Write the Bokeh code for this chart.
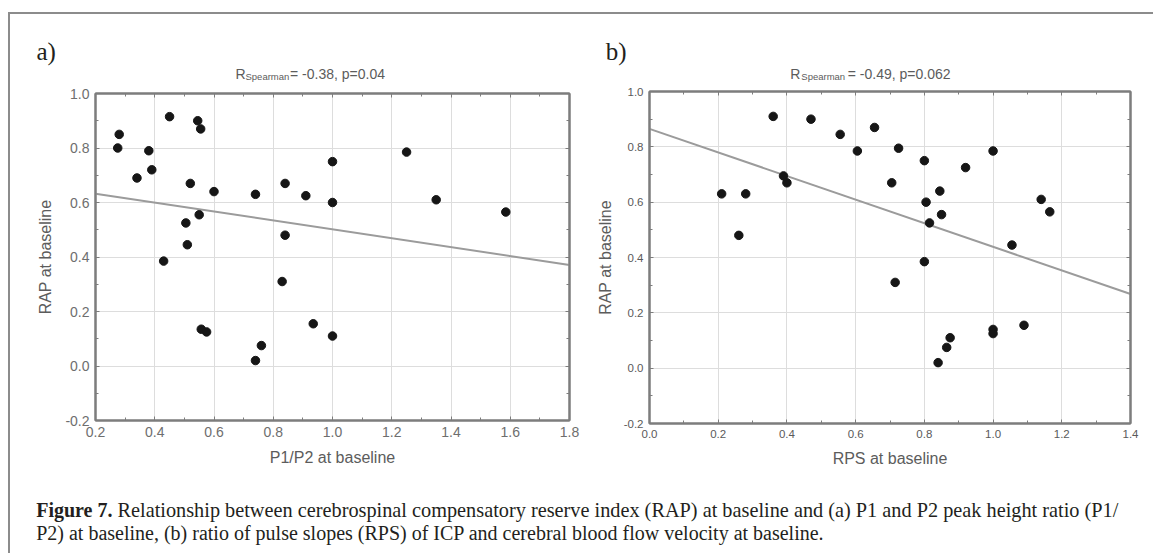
from bokeh.plotting import figure
from bokeh.models import (Range1d, FixedTicker, PrintfTickFormatter, LinearAxis,
                          Label, CustomJSTickFormatter)
from bokeh.layouts import row, column
from bokeh.embed import file_html
from bokeh.resources import INLINE

# ---------------- data ----------------
a_x = [0.275, 0.28, 0.34, 0.38, 0.39, 0.45, 0.545, 0.555, 0.52, 0.60,
       0.55, 0.505, 0.51, 0.43, 0.74, 0.84, 0.91, 1.0, 1.0, 0.84,
       1.25, 1.35, 1.585, 0.83, 0.557, 0.575, 0.76, 0.74, 0.935, 1.0]
a_y = [0.80, 0.85, 0.69, 0.79, 0.72, 0.915, 0.90, 0.87, 0.67, 0.64,
       0.555, 0.525, 0.445, 0.385, 0.63, 0.67, 0.625, 0.75, 0.60, 0.48,
       0.785, 0.61, 0.565, 0.31, 0.135, 0.125, 0.075, 0.02, 0.155, 0.11]
a_line_x = [0.2, 1.8]
a_line_y = [0.632, 0.371]

b_x = [0.21, 0.28, 0.26, 0.36, 0.39, 0.40, 0.47, 0.555, 0.605, 0.655,
       0.725, 0.705, 0.80, 0.805, 0.815, 0.845, 0.85, 0.92, 1.0, 1.055,
       1.14, 1.165, 0.80, 0.715, 1.0, 1.0, 0.875, 0.865, 0.84, 1.09]
b_y = [0.63, 0.63, 0.48, 0.91, 0.695, 0.67, 0.90, 0.845, 0.785, 0.87,
       0.795, 0.67, 0.75, 0.60, 0.525, 0.64, 0.555, 0.725, 0.785, 0.445,
       0.61, 0.565, 0.385, 0.31, 0.14, 0.125, 0.11, 0.075, 0.02, 0.155]
b_line_x = [0.0, 1.4]
b_line_y = [0.865, 0.268]

a_xticks = [0.2, 0.4, 0.6, 0.8, 1.0, 1.2, 1.4, 1.6, 1.8]
a_xminor = [0.3, 0.5, 0.7, 0.9, 1.1, 1.3, 1.5, 1.7]
b_xticks = [0.0, 0.2, 0.4, 0.6, 0.8, 1.0, 1.2, 1.4]
b_xminor = [0.1, 0.3, 0.5, 0.7, 0.9, 1.1, 1.3]
yticks = [-0.2, 0.0, 0.2, 0.4, 0.6, 0.8, 1.0]
yminor = [-0.1, 0.1, 0.3, 0.5, 0.7, 0.9]

a_title = ["R", "Spearman", "= -0.38, p=0.04"]
b_title = ["R", "Spearman", "= -0.49, p=0.062"]
a_xlabel = "P1/P2 at baseline"
b_xlabel = "RPS at baseline"
ylabel = "RAP at baseline"
caption_bold = "Figure 7."
caption_1 = ("Relationship between cerebrospinal compensatory reserve index (RAP) at baseline "
             "and (a) P1 and P2 peak height ratio (P1/")
caption_2 = ("P2) at baseline, (b) ratio of pulse slopes (RPS) of ICP and cerebral blood flow "
             "velocity at baseline.")

SANS = "Liberation Sans"
SERIF = "Liberation Serif"
AXIS_COL = "#7d7d7d"
GRID_COL = "#dddddd"
TEXT_COL = "#5c5c5c"
INK = "#231f20"

HEAD_H = 72
PANEL_H = 384


def blank_fig(width, height):
    f = figure(width=width, height=height, output_backend="svg", toolbar_location=None,
               title=None, x_range=Range1d(0, width), y_range=Range1d(0, height),
               x_axis_type=None, y_axis_type=None, frame_align=False,
               min_border_left=0, min_border_right=0, min_border_top=0, min_border_bottom=0)
    f.outline_line_color = None
    f.grid.visible = False
    return f


def make_header(width, letter, letter_xy, title, title_pos):
    h = blank_fig(width, HEAD_H)
    h.add_layout(Label(x=letter_xy[0], y=letter_xy[1], text=letter, text_font=SERIF,
                       text_font_size="25px", text_color=INK, text_baseline="alphabetic"))
    sizes = ["14px", "9.5px", "14px"]
    for txt, (tx, ty), fs in zip(title, title_pos, sizes):
        h.add_layout(Label(x=tx, y=ty, text=txt, text_font=SANS, text_font_size=fs,
                           text_color=TEXT_COL, text_baseline="alphabetic"))
    return h


def make_panel(width, borders, xr, yr, xticks, xminor, xlabel, tick_size, tick_col,
               xs, ys, lx, ly, xl_standoff, yl_standoff, xt_standoff, yt_standoff):
    p = figure(width=width, height=PANEL_H, output_backend="svg", toolbar_location=None,
               title=None, x_range=Range1d(*xr), y_range=Range1d(*yr), frame_align=False,
               min_border_left=borders[0], min_border_right=borders[1],
               min_border_top=borders[2], min_border_bottom=borders[3])
    p.background_fill_color = "white"
    p.border_fill_color = "white"
    p.outline_line_color = AXIS_COL
    p.outline_line_width = 2

    common = dict(major_tick_in=4, major_tick_out=0, minor_tick_in=3, minor_tick_out=0,
                  axis_line_color=AXIS_COL, axis_line_width=2,
                  major_tick_line_color=AXIS_COL, minor_tick_line_color=AXIS_COL)

    p.xaxis.ticker = FixedTicker(ticks=xticks, minor_ticks=xminor)
    p.yaxis.ticker = FixedTicker(ticks=yticks, minor_ticks=yminor)
    for ax in (p.xaxis[0], p.yaxis[0]):
        ax.formatter = PrintfTickFormatter(format="%.1f")
        ax.major_label_text_font = SANS
        ax.major_label_text_font_size = tick_size
        ax.major_label_text_color = tick_col
        ax.axis_label_text_font = SANS
        ax.axis_label_text_font_size = "16px"
        ax.axis_label_text_font_style = "normal"
        ax.axis_label_text_color = TEXT_COL
        for k, v in common.items():
            setattr(ax, k, v)
    p.xaxis.axis_label = xlabel
    p.yaxis.axis_label = ylabel
    p.xaxis.axis_label_standoff = xl_standoff
    p.yaxis.axis_label_standoff = yl_standoff
    p.xaxis.major_label_standoff = xt_standoff
    p.yaxis.major_label_standoff = yt_standoff

    blank = CustomJSTickFormatter(code="return ''")
    p.add_layout(LinearAxis(ticker=FixedTicker(ticks=yticks, minor_ticks=yminor),
                            formatter=blank, major_label_standoff=0,
                            major_label_text_font_size="0px", **common), "right")
    p.add_layout(LinearAxis(ticker=FixedTicker(ticks=xticks, minor_ticks=xminor),
                            formatter=blank, major_label_standoff=0,
                            major_label_text_font_size="0px", **common), "above")

    p.xgrid.grid_line_color = GRID_COL
    p.ygrid.grid_line_color = GRID_COL
    p.xgrid.ticker = FixedTicker(ticks=xticks)
    p.ygrid.ticker = FixedTicker(ticks=yticks)

    p.line(lx, ly, line_color="#9b9b9b", line_width=2)
    p.scatter(xs, ys, marker="circle", size=8.5, fill_color="#161616",
              line_color="#161616")
    return p


# panel a: canvas page x 10..580 ; panel b: page x 580..1153 ; header page y 14..86
ha = make_header(570, "a)", (26, 35.5), a_title, [(225, 13), (235, 10.5), (279.5, 13)])
hb = make_header(573, "b)", (25.3, 35.5), b_title, [(209.8, 12.7), (220.8, 10.5), (267.3, 12.7)])

pa = make_panel(570, (85, 11, 7, 50), (0.2, 1.8), (-0.2, 1.0),
                a_xticks, a_xminor, a_xlabel, "14px", "#6e6e6e",
                a_x, a_y, a_line_x, a_line_y, 9, 8, 6, 6)
pb = make_panel(573, (69, 23, 5, 47), (0.0, 1.4), (-0.2, 1.0),
                b_xticks, b_xminor, b_xlabel, "11.5px", "#5a5a5a",
                b_x, b_y, b_line_x, b_line_y, 9, 7, 6, 6)

cap = blank_fig(1143, 83)
cap.add_layout(Label(x=25.7, y=43.5, text=caption_bold, text_font=SERIF, text_font_size="20px",
                     text_font_style="bold", text_color=INK, text_baseline="alphabetic"))
cap.add_layout(Label(x=107, y=43.5, text=caption_1, text_font=SERIF, text_font_size="20.3px",
                     text_color=INK, text_baseline="alphabetic"))
cap.add_layout(Label(x=25.7, y=21, text=caption_2, text_font=SERIF, text_font_size="20px",
                     text_color=INK, text_baseline="alphabetic"))

layout = column(row(column(ha, pa, spacing=0), column(hb, pb, spacing=0), spacing=0),
                cap, spacing=0, margin=(12, 0, 0, 8),
                styles={"border-top": "2px solid #8c8c8c", "border-left": "2px solid #8c8c8c"})

open("out.html", "w").write(file_html(layout, INLINE))
